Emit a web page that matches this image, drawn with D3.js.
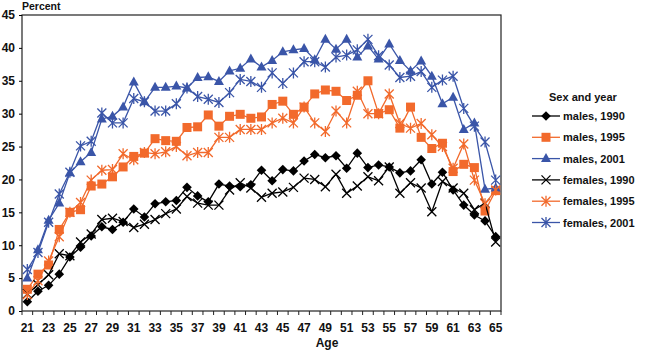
<!DOCTYPE html>
<html lang="en">
<head>
    <meta charset="UTF-8">
    <title>Percent by age</title>
    <script src="https://d3js.org/d3.v7.min.js"></script>
    <style>
        body { margin: 0; background: white; }
        text { font-family: Arial, "Liberation Sans", sans-serif; font-weight: bold; fill: #111; }
        .series { fill: none; stroke-width: 1.3; }
    </style>
</head>
<body>
<script>
    const width  = 647;
    const height = 351;

    const ages = d3.range(21, 66);
    const yTicks = [0, 5, 10, 15, 20, 25, 30, 35, 40, 45];

    const males1990 = [1.4, 3.0, 3.9, 5.6, 8.2, 9.7, 11.4, 12.8, 12.4, 13.5,
        15.5, 14.3, 16.3, 16.6, 16.8, 18.8, 17.5, 16.6, 19.3, 19.0,
        18.9, 19.2, 21.4, 19.8, 21.5, 21.3, 22.8, 23.8, 23.3, 23.6,
        21.7, 24.0, 21.8, 22.2, 21.9, 21.0, 21.3, 23.0, 19.3, 21.1,
        18.4, 16.1, 14.6, 13.7, 11.3];
    const males1995 = [3.3, 5.6, 7.0, 12.4, 15.0, 15.4, 19.0, 19.3, 20.4, 21.9,
        23.5, 24.0, 26.2, 25.9, 25.8, 27.9, 28.0, 29.8, 28.1, 29.6,
        29.9, 29.3, 29.5, 31.4, 31.9, 29.9, 31.0, 33.0, 33.6, 33.4,
        32.0, 32.8, 35.0, 30.0, 30.6, 27.8, 31.0, 26.4, 24.7, 25.5,
        21.2, 22.3, 21.8, 15.2, 18.3];
    const males2001 = [5.0, 9.3, 13.8, 16.4, 21.0, 22.7, 24.1, 29.2, 29.6, 31.0,
        34.8, 31.8, 34.0, 34.0, 34.2, 33.9, 35.5, 35.6, 34.9, 36.5,
        36.9, 38.3, 37.1, 38.1, 39.4, 39.7, 39.9, 38.2, 41.3, 39.8,
        41.3, 38.6, 40.3, 38.3, 40.6, 38.1, 36.5, 38.0, 35.7, 31.5,
        32.5, 27.6, 28.6, 18.5, 18.7];
    const females1990 = [2.6, 4.0, 5.5, 8.7, 8.4, 10.5, 11.7, 13.9, 14.1, 13.6,
        12.7, 13.2, 13.9, 14.8, 15.5, 17.4, 16.4, 16.1, 16.1, 18.4,
        19.5, 18.7, 17.3, 17.9, 18.1, 18.8, 20.2, 20.0, 18.9, 20.8,
        17.9, 19.0, 20.4, 19.8, 21.9, 17.9, 19.5, 18.7, 15.1, 19.7,
        18.7, 17.9, 15.4, 16.4, 10.5];
    const females1995 = [2.5, 4.6, 7.6, 11.3, 15.0, 16.5, 19.9, 21.4, 21.5, 23.9,
        23.0, 24.1, 23.9, 24.2, 25.0, 23.6, 24.1, 24.1, 26.4, 26.4,
        27.6, 27.6, 27.6, 28.6, 29.3, 28.6, 31.0, 28.6, 27.3, 30.4,
        28.6, 33.4, 30.0, 30.0, 33.0, 28.5, 27.8, 28.5, 26.8, 25.0,
        21.7, 25.4, 19.9, 16.3, 18.4];
    const females2001 = [6.3, 8.9, 13.5, 17.8, 21.1, 25.1, 25.8, 30.1, 28.6, 28.6,
        32.3, 31.8, 30.4, 30.4, 31.5, 33.9, 32.6, 32.2, 31.7, 33.2,
        35.2, 34.9, 34.0, 36.2, 34.6, 36.2, 37.9, 37.9, 37.1, 38.6,
        38.9, 39.7, 41.3, 38.8, 37.4, 35.5, 35.7, 36.4, 34.0, 35.1,
        35.7, 30.8, 28.1, 25.7, 19.9];

    const black = "#000000", orange = "#f26a2c", blue = "#3a55a8";

    const series = [
        {name: "males, 1990",   values: males1990,   color: black,  marker: "diamond"},
        {name: "males, 1995",   values: males1995,   color: orange, marker: "square"},
        {name: "males, 2001",   values: males2001,   color: blue,   marker: "triangle"},
        {name: "females, 1990", values: females1990, color: black,  marker: "x"},
        {name: "females, 1995", values: females1995, color: orange, marker: "star"},
        {name: "females, 2001", values: females2001, color: blue,   marker: "star"}
    ];

    const plot = {left: 22, right: 501, top: 15, bottom: 311};

    const x = d3.scalePoint().domain(ages).range([plot.left, plot.right]).padding(0.5);
    const y = d3.scaleLinear().domain([0, 45]).range([plot.bottom, plot.top]);

    const svg = d3.select("body").append("svg").attr("width", width).attr("height", height);

    // frame
    svg.append("rect")
        .attr("x", plot.left).attr("y", plot.top)
        .attr("width", plot.right - plot.left).attr("height", plot.bottom - plot.top)
        .attr("fill", "none").attr("stroke", "#222").attr("stroke-width", 1.2);

    // y axis
    svg.append("g").attr("transform", `translate(${plot.left},0)`)
        .call(d3.axisLeft(y).tickValues(yTicks).tickSize(3).tickPadding(4))
        .call(g => g.select(".domain").remove())
        .call(g => g.selectAll("text").style("font-size", "12px"));

    // x axis: ticks on category boundaries, labels on odd ages
    const step = x.step();
    svg.append("g").selectAll("line")
        .data(d3.range(ages.length + 1))
        .enter().append("line")
        .attr("x1", i => plot.left + i * step).attr("x2", i => plot.left + i * step)
        .attr("y1", plot.bottom).attr("y2", plot.bottom + 4)
        .attr("stroke", "#222");
    svg.append("g").selectAll("text")
        .data(ages.filter(a => a % 2 === 1))
        .enter().append("text")
        .attr("x", d => x(d)).attr("y", plot.bottom + 21)
        .attr("text-anchor", "middle").style("font-size", "12px")
        .text(d => d);

    svg.append("text").attr("x", 22).attr("y", 10).style("font-size", "10.5px").text("Percent");
    svg.append("text").attr("x", 327).attr("y", 347).attr("text-anchor", "middle")
        .style("font-size", "12px").text("Age");

    function drawMarker(g, type, color) {
        if (type === "diamond") {
            g.append("path").attr("d", "M0,-4.8L4.8,0L0,4.8L-4.8,0Z").attr("fill", color);
        } else if (type === "square") {
            g.append("rect").attr("x", -4.5).attr("y", -4.5).attr("width", 9).attr("height", 9)
                .attr("fill", color);
        } else if (type === "triangle") {
            g.append("path").attr("d", "M0,-5.5L5,3.5L-5,3.5Z").attr("fill", color);
        } else if (type === "x") {
            g.append("path").attr("d", "M-4.5,-4.5L4.5,4.5M-4.5,4.5L4.5,-4.5").attr("stroke", color)
                .attr("stroke-width", 1.3).attr("fill", "none");
        } else {
            g.append("path").attr("d", "M-4.5,-4.5L4.5,4.5M-4.5,4.5L4.5,-4.5M0,-5.5L0,5.5")
                .attr("stroke", color).attr("stroke-width", 1.3).attr("fill", "none");
        }
    }

    const line = d3.line().x((d, i) => x(ages[i])).y(d => y(d));

    series.forEach(s => {
        svg.append("path").attr("class", "series")
            .attr("d", line(s.values)).attr("stroke", s.color);
        const pts = svg.append("g").selectAll("g")
            .data(s.values).enter().append("g")
            .attr("transform", (d, i) => `translate(${x(ages[i])},${y(d)})`);
        pts.each(function () { drawMarker(d3.select(this), s.marker, s.color); });
    });

    // legend
    const legend = svg.append("g");
    legend.append("text").attr("x", 549).attr("y", 101).style("font-size", "11px").text("Sex and year");
    series.forEach((s, i) => {
        const ly = 116 + i * 21.3;
        legend.append("line").attr("x1", 532).attr("x2", 560).attr("y1", ly).attr("y2", ly)
            .attr("stroke", s.color).attr("stroke-width", 1.3);
        drawMarker(legend.append("g").attr("transform", `translate(546,${ly})`), s.marker, s.color);
        legend.append("text").attr("x", 563).attr("y", ly + 4).style("font-size", "11px").text(s.name);
    });
</script>
</body>
</html>
